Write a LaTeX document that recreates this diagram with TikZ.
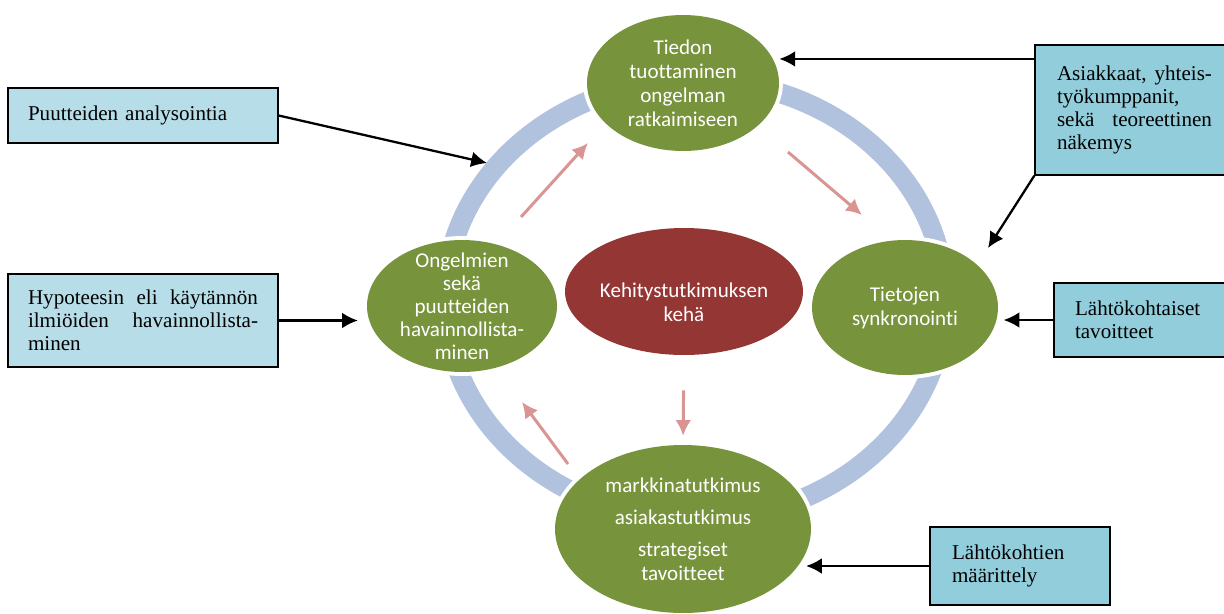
\documentclass[tikz,border=0pt]{standalone}
\usepackage{fontspec}
\setmainfont{Liberation Serif}
\newfontfamily\calibri[Ligatures=NoCommon]{Carlito}
\usetikzlibrary{shapes.geometric,arrows.meta}
\definecolor{oliivi}{RGB}{119,147,60}
\definecolor{viini}{RGB}{148,54,52}
\definecolor{rengas}{RGB}{176,194,222}
\definecolor{roosa}{RGB}{217,149,148}
\definecolor{vaalea}{RGB}{183,221,232}
\definecolor{turkoosi}{RGB}{146,205,220}

\begin{document}
\begin{tikzpicture}[x=0.02cm, y=-0.02cm,
  soikio/.style={ellipse, fill=oliivi, preaction={draw=white, line width=4.5pt}, inner sep=-6pt, align=center, text=white, font=\calibri\fontsize{12}{13.7}\selectfont},
  laatikko/.style={draw=black, line width=0.8pt, inner sep=0pt, font=\fontsize{12}{13.1}\selectfont},
  musta/.style={-{Latex[length=9pt,width=9pt]}, line width=1.3pt},
  roosanuoli/.style={-{Latex[length=9pt,width=9pt]}, line width=1.7pt, roosa}]
\useasboundingbox (0,0) rectangle (1224,613);

%%%%%%%%%%%%%-------------rengas
\draw[rengas, line width=0.4cm] (695,300) ellipse [x radius=5cm, y radius=4.4cm];

%%%%%%%%%%%%%-------------soikiot
\node[soikio, minimum width=3.84cm, minimum height=2.72cm] (tiedon) at (683,83) {Tiedon\\ tuottaminen\\ ongelman\\ ratkaimiseen};
\node[soikio, minimum width=3.8cm, minimum height=2.64cm, font=\calibri\fontsize{12}{13.1}\selectfont] (ongelmat) at (462,306) {Ongelmien\\ sekä\\ puutteiden\\ havainnollista-\\ minen};
\node[soikio, minimum width=3.72cm, minimum height=2.7cm] (synkro) at (905,307.5) {Tietojen\\ synkronointi};
\node[soikio, minimum width=5.12cm, minimum height=3.36cm] (markkina) at (683,529) {markkinatutkimus\\[0.16cm] asiakastutkimus\\[0.15cm] strategiset\\ tavoitteet};
\node[soikio, fill=viini, minimum width=4.76cm, minimum height=2.54cm] (keha) at (684,291.5) {};
\node[align=center, text=white, font=\calibri\fontsize{12}{13.7}\selectfont] (kehateksti) at (684,302.5) {Kehitystutkimuksen\\ keh\"a};

%%%%%%%%%%%%%-------------kierto
\coordinate (nousu1) at (521,217);
\coordinate (nousu2) at (588,143);
\coordinate (lasku1) at (788,152);
\coordinate (lasku2) at (862,215);
\coordinate (paluu1) at (568,464);
\coordinate (paluu2) at (522,402);
\draw[roosanuoli] (nousu1)--(nousu2);
\draw[roosanuoli] (lasku1)--(lasku2);
\draw[roosanuoli, shorten <=20pt, shorten >=5pt] (keha.south)--(markkina.north);
\draw[roosanuoli] (paluu1)--(paluu2);

%%%%%%%%%%%%%-------------laatikot
\node[laatikko, fill=vaalea, minimum width=5.4cm, minimum height=1.1cm, text width=4.6cm, align=left] (analyysi) at (143,115.5) {Puutteiden analysointia};
\node[laatikko, fill=vaalea, minimum width=5.4cm, minimum height=1.86cm, text width=4.6cm, align=justify] (hypoteesi) at (143,320.5) {Hypoteesin eli käytännön\linebreak ilmiöiden havainnollista-\linebreak minen};
\node[laatikko, fill=turkoosi, minimum width=3.98cm, minimum height=2.6cm, text width=3.1cm, align=justify] (asiakkaat) at (1134.5,110) {Asiakkaat, yhteis-\linebreak työkumppanit,\\ sekä teoreettinen\linebreak näkemys};
\node[laatikko, fill=turkoosi, minimum width=3.56cm, minimum height=1.48cm, text width=2.72cm, align=left] (lahto) at (1143,320) {Lähtökohtaiset\\ tavoitteet};
\node[laatikko, fill=turkoosi, minimum width=3.6cm, minimum height=1.56cm, text width=2.72cm, align=left] (maarittely) at (1020,566) {Lähtökohtien\\ määrittely};

%%%%%%%%%%%%%-------------nuolet
\coordinate (rengaspiste) at (487,163);
\coordinate (synkropiste) at (988,248);
\draw[musta] (analyysi.east)--(rengaspiste);
\draw[musta, shorten >=5pt] (hypoteesi.east)--(hypoteesi.east -| ongelmat.west);
\draw[musta] (asiakkaat.153)--(asiakkaat.153 -| tiedon.east);
\draw[musta] (asiakkaat.south west)--(synkropiste);
\draw[musta, shorten >=3pt] (lahto.west)--(lahto.west -| synkro.east);
\draw[musta, shorten >=-3pt] (maarittely.west)--(maarittely.west -| markkina.east);

\end{tikzpicture}
\end{document}
